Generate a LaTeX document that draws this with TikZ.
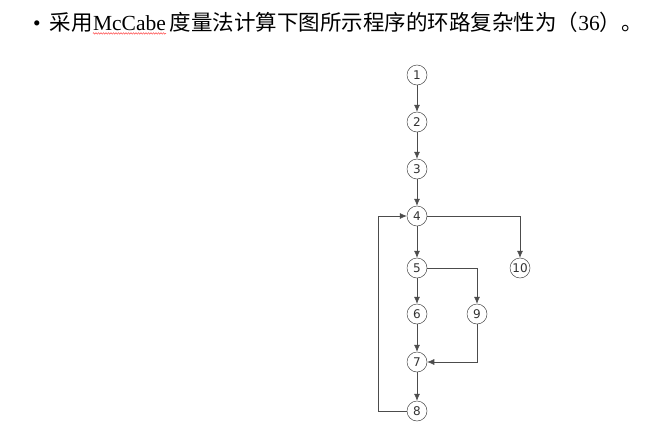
\documentclass[tikz,border=0pt]{standalone}
\usepackage{fontspec}
\setmainfont{Liberation Serif}
\newfontfamily\cjk{Noto Sans CJK SC}
\newfontfamily\nodefont{DejaVu Sans}
\usetikzlibrary{arrows.meta,decorations.pathmorphing}
\begin{document}
\begin{tikzpicture}[x=1pt,y=-1pt,
  tt/.style={inner sep=0pt,font=\fontsize{21.5}{21.5}\selectfont},
  nd/.style={circle,draw=black!70,line width=0.5pt,minimum size=20pt,inner sep=0pt,font=\nodefont\fontsize{12}{12}\selectfont,text=black!80},
  ar/.style={draw=black!70,line width=0.6pt,-{Latex[length=7pt,width=6pt]}}]
\useasboundingbox[fill=white] (0,0) rectangle (669,447);
\node[tt,anchor=base west] (t1) at (33,30) {\textbullet\ \,{\cjk 采用}};
\node[tt,anchor=base west] (mc) at (t1.base east) {McCabe};
\node[tt,anchor=base west] (t2) at (mc.base east) {\,{\cjk 度量法计算下图所示程序的环路复杂性为（}36{\cjk ）。}};
\draw[red!80,line width=0.4pt,decorate,decoration={zigzag,amplitude=0.8pt,segment length=2.5pt}] ([yshift=-3pt]mc.south west) -- ([yshift=-3pt]mc.south east);
\node[nd] (n1) at (417,75) {1};
\node[nd] (n2) at (417,122) {2};
\node[nd] (n3) at (417,169) {3};
\node[nd] (n4) at (417,216) {4};
\node[nd] (n5) at (417,268) {5};
\node[nd] (n10) at (520,268) {10};
\node[nd] (n6) at (417,314) {6};
\node[nd] (n9) at (477,314) {9};
\node[nd] (n7) at (417,362) {7};
\node[nd] (n8) at (417,411) {8};
\draw[ar] (n1) -- (n2);
\draw[ar] (n2) -- (n3);
\draw[ar] (n3) -- (n4);
\draw[ar] (n4) -- (n5);
\draw[ar] (n5) -- (n6);
\draw[ar] (n6) -- (n7);
\draw[ar] (n7) -- (n8);
\draw[ar] (n4) -| (n10);
\draw[ar] (n5) -| (n9);
\draw[ar] (n9) |- (n7);
\draw[ar] (n8) -- (378,411) |- (n4);
\end{tikzpicture}
\end{document}
